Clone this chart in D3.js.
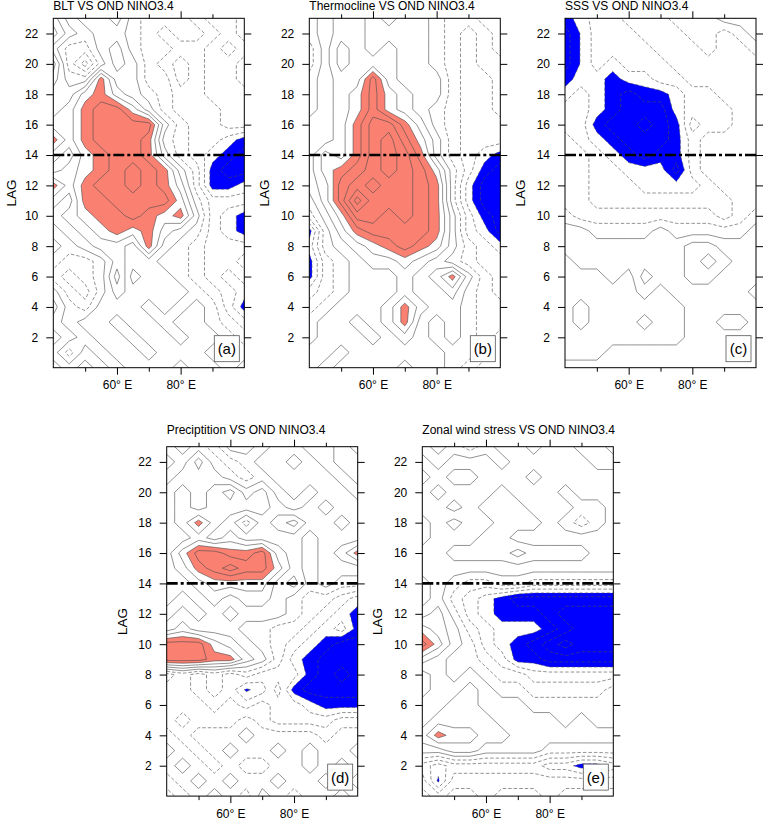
<!DOCTYPE html>
<html>
<head>
<meta charset="utf-8">
<script src="https://cdn.jsdelivr.net/npm/d3@7"></script>
<style>
  body { margin: 0; background: #fff; }
  svg { font-family: "Liberation Sans", Arial, Helvetica, sans-serif; }
</style>
</head>
<body>
<svg id="chart" width="763" height="821"></svg>
<script>
"use strict"

// grid columns (deg E) and rows (lag, months), top row first
var lons = [40, 45, 50, 55, 60, 65, 70, 75, 80, 85, 90, 95, 100]
var lags = [23, 22, 21, 20, 19, 18, 17, 16, 15, 14, 13, 12, 11, 10, 9, 8, 7, 6, 5, 4, 3, 2, 1, 0]

var lagTicks = [2, 4, 6, 8, 10, 12, 14, 16, 18, 20, 22]
var lonTicks = [60, 80]
var lonMinorTicks = [50, 70, 90]

var titles = ["BLT VS OND NINO3.4", "Thermocline VS OND NINO3.4", "SSS VS OND NINO3.4",
              "Preciptition VS OND NINO3.4", "Zonal wind stress VS OND NINO3.4"]
var tags = ["(a)", "(b)", "(c)", "(d)", "(e)"]

// correlations in units of 0.1
var sigLevel = 3.5
var refLag = 14

var bltRows = [
  [ 2, 0, 1, 1, 2, 0,-1,-1,-1,-2,-1,-1, 0],
  [ 3, 1, 0, 1, 1, 0,-1,-2,-1,-1,-2,-1, 0],
  [ 1,-1,-1, 1, 2, 0,-1,-1,-2,-2,-1, 0,-1],
  [ 3,-1,-3, 0, 2, 1,-1,-2,-3,-2,-1,-1, 0],
  [ 2, 0, 0, 4, 1, 1,-1,-1,-3,-2,-1,-1, 0],
  [ 1, 1, 3, 4, 2, 1, 0,-1,-2,-2,-1,-1,-1],
  [ 1, 2, 4, 5, 5, 3, 1,-1,-2,-2,-2,-1,-1],
  [ 2, 2, 4, 5, 5, 5, 5, 1,-1,-2,-2,-1,-1],
  [ 4, 2, 4, 5, 5, 5, 4, 0,-1,-2,-2,-3,-4],
  [ 2, 1, 3, 4, 5, 5, 4, 1,-1,-2,-3,-4,-5],
  [ 1, 2, 3, 4, 5, 6, 5, 4, 1,-1,-4,-5,-5],
  [ 4, 2, 4, 5, 5, 6, 5, 4, 2,-1,-4,-4,-3],
  [ 2, 1, 4, 4, 5, 5, 5, 5, 3, 0,-2,-2,-2],
  [ 1, 2, 3, 4, 4, 5, 4, 3, 4, 1,-2,-3,-4],
  [ 0, 1, 2, 3, 4, 3, 4, 2, 1, 0,-2,-3,-4],
  [ 1, 0, 1, 2, 2, 1, 4, 1, 0,-1,-2,-2,-2],
  [ 0,-1,-1, 0, 2, 1, 1, 0, 0,-1,-2,-2,-1],
  [-1,-2,-1, 0, 3, 0, 1, 1, 0,-1,-2,-3,-2],
  [ 1,-1,-2, 0, 2, 1, 1, 1, 1, 0,-1,-2,-3],
  [ 2, 0,-1, 1, 1, 1, 0, 1, 0, 1, 0,-2,-4],
  [ 1, 0, 1, 1, 0, 1, 1, 0, 1, 1, 0,-1,-2],
  [ 2, 1, 0, 1, 1, 0, 1, 1, 0, 1, 1, 0,-1],
  [ 1,-1, 1, 0, 1, 1, 0, 1, 1, 1, 0, 1, 0],
  [ 2, 1, 2, 1, 0, 1, 1, 1, 0, 1, 1, 0, 1]
]

var thermoRows = [
  [ 0, 1, 2, 2, 1, 0, 1, 1, 0,-1,-1, 0, 0],
  [ 0, 1, 2, 2, 1, 1, 1, 1, 0,-1,-2,-1, 0],
  [-1, 1, 3, 2, 1, 2, 1, 1, 0,-1,-2,-1, 0],
  [-1, 1, 3, 2, 2, 2, 1, 1, 0,-1,-2,-1,-1],
  [ 0, 1, 2, 2, 5, 2, 1, 1, 1,-1,-2,-2,-1],
  [ 0, 1, 2, 3, 5, 3, 2, 1, 1,-1,-2,-2,-1],
  [ 0, 1, 2, 3, 5, 3, 2, 1, 0,-1,-2,-2,-1],
  [ 1, 1, 2, 4, 6, 6, 4, 2, 0,-1,-2,-2,-2],
  [ 1, 1, 2, 4, 6, 7, 5, 3, 1,-1,-2,-2,-2],
  [ 1, 3, 2, 4, 6, 7, 6, 4, 1,-1,-2,-3,-4],
  [ 1, 3, 4, 5, 6, 7, 6, 5, 3, 0,-2,-4,-5],
  [ 1, 2, 5, 6, 7, 6, 6, 5, 4, 0,-3,-5,-5],
  [ 0, 2, 5, 8, 6, 6, 6, 5, 4, 0,-3,-5,-5],
  [-1, 1, 3, 6, 6, 5, 6, 5, 4, 1,-2,-4,-5],
  [-4, 0, 2, 4, 5, 5, 5, 5, 4, 1,-2,-3,-5],
  [-3, 0, 1, 2, 3, 4, 5, 4, 3, 1,-1,-2,-3],
  [-4,-1, 0, 1, 2, 2, 3, 2, 1, 0,-1,-2,-2],
  [-4,-1, 0, 1, 1, 1, 2, 1, 2, 4, 1,-1,-2],
  [-2,-1, 0, 1, 1, 1, 2, 1, 1, 2, 0,-1,-2],
  [-1, 0, 1, 1, 1, 2, 4, 2, 1, 1, 0,-1,-1],
  [ 0, 1, 1, 0, 1, 2, 4, 1, 0, 1, 0,-1,-1],
  [ 0, 1, 1, 1, 0, 1, 2, 1, 0, 1, 0,-1, 0],
  [ 1, 1, 0, 1, 1, 1, 1, 1, 1, 0, 0,-1, 0],
  [ 1, 0, 1, 1, 1, 1, 0, 1, 1, 0,-1, 0, 0]
]

var sssRows = [
  [-4,-3,-2,-2,-1,-1,-1, 0, 0, 0, 1, 1, 1],
  [-5,-3.4,-2,-2,-2,-1,-1,-1, 0, 0,-1, 0, 1],
  [-5,-3.4,-2,-2,-2,-2,-1,-1,-1, 0,-1,-1, 0],
  [-5,-3.4,-2,-3,-2,-2,-2,-1,-1,-1,-1,-1,-1],
  [-4,-3,-3,-4,-3,-3,-2,-2,-1,-1,-1,-1,-1],
  [-3,-2,-3,-4,-5,-4,-4,-3,-2,-2,-1,-1,-1],
  [-2,-2,-3,-4,-5,-5,-5,-3,-2,-2,-2,-1,-1],
  [-2,-2,-4,-5,-5,-6,-5,-4,-1,-2,-2,-1,-1],
  [-1,-2,-3,-4,-5,-5,-5,-4,-2,-1,-1,-1,-1],
  [-1,-1,-2,-3,-4,-5,-4,-4,-2,-1,-1,-1,-1],
  [-1,-1,-2,-2,-3,-3,-3,-5,-2,-1,-1,-1,-1],
  [-1,-1,-2,-2,-2,-3,-3,-3,-3,-2,-1,-1,-1],
  [-1,-1,-2,-2,-2,-2,-2,-2,-2,-2,-2,-1,-1],
  [ 0,-1,-1,-1,-1,-1,-1,-1,-1,-1,-2,-1, 0],
  [ 1, 1, 0, 0, 0, 0, 1, 0, 0, 0, 0, 0, 1],
  [ 1, 1, 1, 1, 1, 1, 1, 1, 2, 2, 1, 1, 1],
  [ 2, 1, 1, 1, 1, 1, 1, 1, 2, 3, 2, 1, 1],
  [ 2, 2, 2, 1, 2, 0, 1, 1, 2, 2, 1, 1, 1],
  [ 2, 2, 2, 2, 2, 1, 2, 1, 1, 1, 1, 1, 2],
  [ 2, 3, 2, 2, 2, 2, 2, 2, 1, 1, 1, 1, 1],
  [ 2, 3, 2, 2, 2, 3, 2, 2, 1, 1, 0, 0, 1],
  [ 2, 2, 2, 2, 2, 2, 2, 2, 1, 1, 1, 1, 1],
  [ 2, 2, 2, 1, 1, 1, 1, 1, 1, 1, 1, 1, 1],
  [ 1, 1, 1, 1, 1, 1, 1, 1, 1, 1, 1, 1, 1]
]

var precipRows = [
  [ 0, 1, 0,-1, 1, 1, 0, 1, 1, 0, 0, 1, 0],
  [ 1, 0, 2, 0,-1, 0, 1, 1, 2, 1, 0, 1, 1],
  [ 0, 1, 1, 1, 0,-1, 0, 1, 1, 1, 1, 0, 1],
  [ 1, 2, 1, 2, 3, 1, 2, 0, 1, 0, 1, 1, 0],
  [ 1, 2, 1, 2, 2, 2, 2, 1, 0, 1, 2, 1, 1],
  [ 1, 2, 4, 2, 1,-1, 1, 2, 3, 1, 1, 2, 1],
  [ 1, 1, 2, 1, 2, 1, 1, 1, 1, 0, 1, 1, 1],
  [ 1, 3, 5, 5, 4, 4, 5, 2, 1, 0, 1, 2, 4],
  [ 1, 2, 4, 5, 6, 5, 5, 3, 1, 0, 1, 1, 1],
  [ 1, 1, 2, 3, 3, 3, 3, 1, 2, 0, 1, 0, 0],
  [ 1, 0, 1, 2, 1, 2, 2, 1, 0,-1,-1,-2,-3],
  [ 0, 1, 0, 1, 2, 1, 1, 1, 0,-1,-2,-3,-4],
  [ 1, 2, 1, 1, 1, 0, 0,-1,-1,-2,-3,-2,-4],
  [ 5, 5, 5, 3, 2, 1, 0,-1,-2,-3,-4,-5,-5],
  [ 5, 5, 5, 4, 4, 2, 1,-1,-3,-4,-5,-5,-5],
  [-2,-1,-2,-1,-2,-1,-2,-2,-2,-4,-5,-6,-5],
  [-1,-1,-2,-1,-2,-3.7,-3,-1,-4,-5,-5,-5,-5],
  [-1,-1,-1,-2,-1,-2,-1,-2,-2,-3,-4,-4,-4],
  [-1, 0,-1,-1,-1, 0,-1,-2,-2,-2,-2,-1,-1],
  [ 0,-1, 0, 0, 0, 1, 0, 0, 0, 0,-1, 0, 0],
  [ 1, 0,-1, 0, 1, 0, 0, 1, 0, 1, 0, 0, 1],
  [ 0, 1, 0,-1, 0,-1,-1, 0, 0, 1, 0, 1, 0],
  [-1, 0, 1, 0, 1, 0, 0, 1, 0, 0, 1, 0, 1],
  [ 0,-1, 0, 1, 0,-1, 1, 0,-1, 0, 0, 1, 0]
]

var tauxRows = [
  [ 0, 1, 0,-1, 0, 1, 1, 0, 1, 1, 0, 0, 1],
  [ 1, 0, 1, 1, 1, 0, 1, 1, 1, 1, 1, 0, 0],
  [ 2, 1, 2, 2, 1, 1, 1, 0, 1, 1, 1, 1, 1],
  [ 1, 2, 1, 1, 1, 2, 1, 1, 1, 0, 1, 1, 1],
  [ 1, 1, 0, 1, 2, 2, 2, 1, 1, 1, 0, 0, 1],
  [ 2, 1, 2, 1, 1, 2, 2, 2, 1, 0,-1, 0, 1],
  [ 2, 1, 1, 1, 2, 2, 1, 1, 1, 1, 1, 1, 1],
  [ 1, 1, 2, 2, 2, 2, 3, 2, 2, 2, 2, 1, 1],
  [ 1, 1, 1, 1, 1, 1, 1, 1, 1, 1, 1, 1, 1],
  [ 0, 1, 0,-1,-1, 0, 0,-1,-1,-1,-1,-1,-1],
  [ 0, 1,-1,-2,-3,-4,-5,-5,-5,-5,-5,-5,-5],
  [ 1, 2, 0,-2,-3,-4,-4,-4,-5,-6,-6,-6,-6],
  [ 3, 2, 1,-1,-2,-3,-3,-3,-4,-5,-6,-6,-6],
  [ 5, 3, 1, 0,-2,-3,-4,-5,-6,-7,-6,-6,-6],
  [ 2, 1, 0, 0,-1,-2,-4,-4,-5,-5,-5,-5,-5],
  [ 0, 1, 0, 1, 0,-1,-1,-2,-2,-2,-2,-2,-2],
  [ 0, 1, 1, 2, 1, 0, 0,-1,-1,-1,-1,-1, 0],
  [ 1, 1, 2, 2, 1, 1, 1, 0, 0, 0, 0, 0, 0],
  [ 1, 2, 2, 2, 2, 1, 1, 1, 1, 0, 1, 0, 0],
  [ 2, 4, 3, 3, 2, 2, 1, 1, 1, 1, 1, 1, 1],
  [ 1, 1, 2, 2, 1, 1, 1, 1, 0, 0, 0, 0, 0],
  [-2,-3,-2,-2,-2,-2,-2,-2,-3,-3,-4,-4,-3],
  [-1,-3.7,-1,-1,-1,-1,-1,-1,-1,-1,-1,-1,-1],
  [ 0,-1, 0, 0,-1, 0, 0, 0,-1, 0, 0, 0, 0]
]

var panelRows = [bltRows, thermoRows, sssRows, precipRows, tauxRows]

// where each panel sits on the page
var layout = [
  {x: 53.3,  y: 18.3,  titleGap: 8.7,  lagGap: 37},
  {x: 309.3, y: 18.3,  titleGap: 8.7,  lagGap: 40},
  {x: 565,   y: 18.3,  titleGap: 8.7,  lagGap: 40},
  {x: 166.7, y: 446.7, titleGap: 12.4, lagGap: 40},
  {x: 422.3, y: 446.7, titleGap: 12.4, lagGap: 40}
]
var plotW = 191
var plotH = 349.4

/**
 * Path generator going from contour grid units to pixels
 *
 * @param x   longitude scale
 * @param y   lag scale
 */
function gridPath(x, y) {
  var step = lons[1] - lons[0]
  return d3.geoPath(d3.geoTransform({
    point: function(gx, gy) {
      this.stream.point(x(lons[0] + (gx - 0.5) * step), y(lags[0] - (gy - 0.5)))
    }
  }))
}

/**
 * Axes of one panel: ticks outside on all four sides
 */
function drawAxes(g, x, y) {
  var fontFamily = '"Liberation Sans", Arial, Helvetica, sans-serif'

  g.append("g")
    .attr("class", "y axis")
    .call(d3.axisLeft(y).tickValues(lagTicks).tickSize(7).tickPadding(8))
  g.append("g")
    .attr("transform", "translate(" + plotW + ",0)")
    .call(d3.axisRight(y).tickValues(lagTicks).tickSize(7).tickFormat(""))
  g.append("g")
    .attr("class", "x axis")
    .attr("transform", "translate(0," + plotH + ")")
    .call(d3.axisBottom(x).tickValues(lonTicks).tickSize(7).tickPadding(6).tickFormat(d => d + "\u00b0 E"))
  g.append("g")
    .attr("transform", "translate(0," + plotH + ")")
    .call(d3.axisBottom(x).tickValues(lonMinorTicks).tickSize(4).tickFormat(""))
  g.append("g")
    .call(d3.axisTop(x).tickValues(lonTicks).tickSize(7).tickFormat(""))
  g.append("g")
    .call(d3.axisTop(x).tickValues(lonMinorTicks).tickSize(4).tickFormat(""))

  g.selectAll(".domain").remove()
  g.selectAll(".tick line").attr("stroke", "#000").attr("stroke-width", 1)
  g.selectAll(".tick text")
    .attr("fill", "#000")
    .attr("font-size", 12)
    .attr("font-family", fontFamily)
}

/**
 * Draws one lag / longitude panel
 *
 * @param svg    root svg
 * @param i      panel index
 */
function drawPanel(svg, i) {
  var box = layout[i]
  var values = panelRows[i].flat()
  var g = svg.append("g").attr("transform", "translate(" + box.x + "," + box.y + ")")

  var x = d3.scaleLinear().domain([40, 100]).range([0, plotW])
  var y = d3.scaleLinear().domain([0, 23]).range([plotH, 0])
  var path = gridPath(x, y)

  var clipId = "clip" + i
  g.append("clipPath").attr("id", clipId)
    .append("rect").attr("width", plotW).attr("height", plotH)

  var plot = g.append("g").attr("clip-path", "url(#" + clipId + ")")

  var contours = d3.contours().size([lons.length, lags.length])

  // shaded significant areas
  var pos = contours.thresholds([sigLevel])(values)[0]
  var neg = contours.thresholds([sigLevel])(values.map(v => -v))[0]
  plot.append("path").attr("d", path(pos)).attr("fill", "#fa8072")
  plot.append("path").attr("d", path(neg)).attr("fill", "#0000ff")

  // contour lines every 0.1, negative ones dashed
  var levels = d3.range(-8.5, 9, 1)
  plot.selectAll("path.iso")
    .data(contours.thresholds(levels)(values))
    .enter()
    .append("path")
      .attr("class", "iso")
      .attr("d", path)
      .attr("fill", "none")
      .attr("stroke", "#4a4a4a")
      .attr("stroke-width", 0.6)
      .attr("stroke-dasharray", d => d.value < 0 ? "3.5,2" : null)

  // reference lag
  plot.append("line")
    .attr("x1", 0).attr("x2", plotW)
    .attr("y1", y(refLag)).attr("y2", y(refLag))
    .attr("stroke", "#000")
    .attr("stroke-width", 2.6)
    .attr("stroke-dasharray", "11,3,3,3")

  g.append("rect")
    .attr("width", plotW).attr("height", plotH)
    .attr("fill", "none").attr("stroke", "#000").attr("stroke-width", 1)

  drawAxes(g, x, y)

  g.append("text")
    .attr("x", 0).attr("y", -box.titleGap)
    .attr("font-size", 12)
    .text(titles[i])

  g.append("text")
    .attr("transform", "translate(" + (-box.lagGap) + "," + (plotH / 2) + ") rotate(-90)")
    .attr("text-anchor", "middle")
    .attr("font-size", 13.5)
    .text("LAG")

  // panel tag in its little box
  var tag = g.append("g").attr("transform", "translate(" + (plotW - 30) + "," + (plotH - 32) + ")")
  tag.append("rect")
    .attr("width", 25).attr("height", 26)
    .attr("fill", "#fff").attr("stroke", "#555").attr("stroke-width", 0.8)
  tag.append("text")
    .attr("x", 12.5).attr("y", 18.5)
    .attr("text-anchor", "middle")
    .attr("font-size", 15)
    .text(tags[i])
}

var svg = d3.select("#chart")
panelRows.forEach((rows, i) => drawPanel(svg, i))
</script>
</body>
</html>
